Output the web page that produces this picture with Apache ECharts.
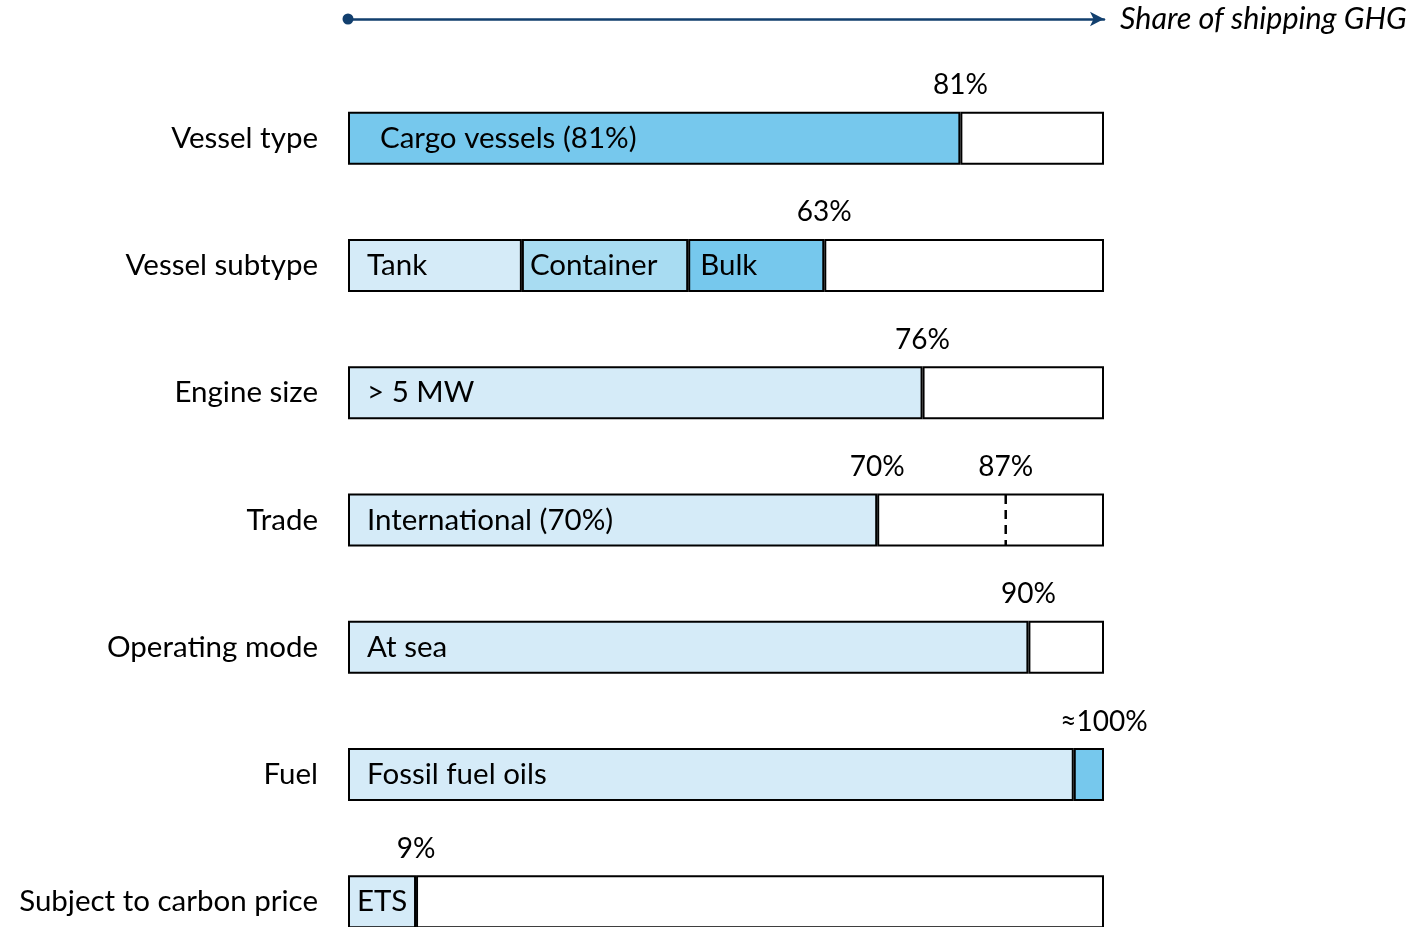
<!DOCTYPE html>
<html>
<head>
<meta charset="utf-8">
<script src="https://cdn.jsdelivr.net/npm/echarts@6/dist/echarts.min.js"></script>
<style>html,body{margin:0;padding:0;background:#fff;}#c{width:1420px;height:927px;}</style>
</head>
<body>
<div id="c"></div>
<script>
const categories = ['Vessel type','Vessel subtype','Engine size','Trade','Operating mode','Fuel','Subject to carbon price'];
const seg1Values = [81, 23, 76, 70, 90, 96, 9];
const seg1Labels = ['Cargo vessels (81%)','Tank','> 5 MW','International (70%)','At sea','Fossil fuel oils','ETS'];
const seg1Shades = ['dark','light','light','light','light','light','light'];
const seg2Values = ['-', 22, '-', '-', '-', 4, '-'];
const seg2Labels = ['', 'Container', '', '', '', '', ''];
const seg2Shades = ['', 'mid', '', '', '', 'dark', ''];
const seg3Values = ['-', 18, '-', '-', '-', '-', '-'];
const seg3Labels = ['', 'Bulk', '', '', '', '', ''];
const seg3Shades = ['', 'dark', '', '', '', '', ''];
const restValues = [19, 37, 24, 30, 10, '-', 91];
const topLabelX = [81, 63, 76, 70, 87, 90, 100, 9];
const topLabelCat = ['Vessel type','Vessel subtype','Engine size','Trade','Trade','Operating mode','Fuel','Subject to carbon price'];
const topLabelText = ['81%','63%','76%','70%','87%','90%','≈100%','9%'];
const dashedX = [87];
const dashedCat = ['Trade'];

const shades = {light:'#D5EBF8', mid:'#A8DCF2', dark:'#76C8ED'};
const FONT = 'Lato';
const FS = 29.5;
const labelDist = [32, 19, 19, 19, 19, 19, 9];

function segData(vals, labels, sh, dists) {
  return vals.map((v, i) => ({
    value: v,
    itemStyle: {color: sh[i] ? shades[sh[i]] : '#fff'},
    label: {formatter: labels[i] || '', distance: dists ? dists[i] : 9}
  }));
}
const barCommon = {
  type: 'bar', stack: 'a', barWidth: 53,
  itemStyle: {borderColor: '#000', borderWidth: 2},
  label: {show: true, position: 'insideLeft', color: '#000', fontSize: FS, fontFamily: FONT},
  emphasis: {disabled: true}, silent: true, animation: false
};

const chart = echarts.init(document.getElementById('c'), null, {renderer: 'canvas'});
chart.setOption({
  animation: false,
  grid: {left: 348, width: 756, top: 74.5, height: 891, containLabel: false, outerBoundsMode: 'none'},
  xAxis: {
    type: 'value', min: 0, max: 100, position: 'top', offset: 55.5,
    axisLine: {show: true, symbol: ['circle', 'arrow'], symbolSize: [11, 14], lineStyle: {color: '#123F6E', width: 2.5}},
    axisTick: {show: false}, axisLabel: {show: false}, splitLine: {show: false},
    name: 'Share of shipping GHG', nameLocation: 'end', nameGap: 16,
    nameTextStyle: {fontStyle: 'italic', fontSize: 30.5, color: '#000', fontFamily: FONT, verticalAlign: 'middle'}
  },
  yAxis: {
    type: 'category', data: categories, inverse: true,
    axisLine: {show: false}, axisTick: {show: false}, splitLine: {show: false},
    axisLabel: {fontSize: FS, color: '#000', fontFamily: FONT, margin: 30}
  },
  series: [
    Object.assign({}, barCommon, {name: 's1', data: segData(seg1Values, seg1Labels, seg1Shades, labelDist)}),
    Object.assign({}, barCommon, {name: 's2', data: segData(seg2Values, seg2Labels, seg2Shades, [8,8,8,8,8,8,8])}),
    Object.assign({}, barCommon, {name: 's3', data: segData(seg3Values, seg3Labels, seg3Shades, [12,12,12,12,12,12,12])}),
    Object.assign({}, barCommon, {name: 'rest', data: restValues.map(v => ({value: v, itemStyle: {color: '#fff'}})), label: {show: false}}),
    {
      type: 'scatter', symbolSize: 0, silent: true, z: 10,
      itemStyle: {opacity: 1},
      data: topLabelX.map((x, i) => ({value: [x, topLabelCat[i]], text: topLabelText[i]})),
      label: {show: true, position: 'inside', offset: [0, -53], color: '#000', opacity: 1, fontSize: 28, fontFamily: FONT,
        formatter: p => p.data.text}
    },
    {
      type: 'custom', silent: true, z: 10,
      data: dashedX.map((x, i) => [x, dashedCat[i]]),
      renderItem: (params, api) => {
        const p = api.coord([api.value(0), api.value(1)]);
        return {type: 'line', z2: 100, shape: {x1: p[0], y1: p[1] - 25, x2: p[0], y2: p[1] + 25},
          style: {stroke: '#000', lineWidth: 2.5, lineDash: [9, 6]}};
      },
      encode: {x: 0, y: 1}
    }
  ]
});
</script>
</body>
</html>
